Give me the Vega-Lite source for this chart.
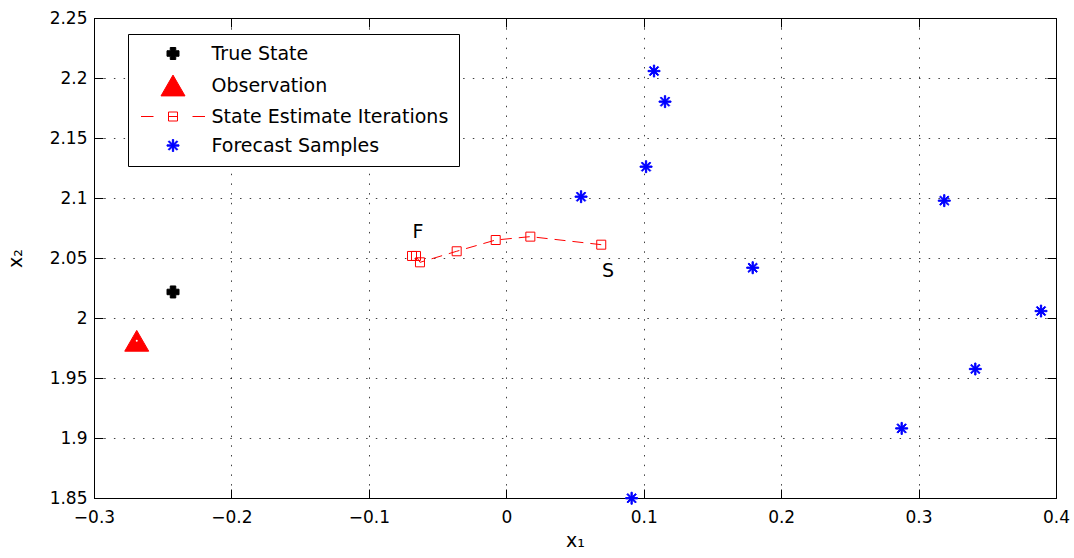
{
  "$schema": "https://vega.github.io/schema/vega-lite/v6.json",
  "width": 962,
  "height": 480,
  "autosize": {"type": "none"},
  "padding": {"left": 94, "top": 18, "right": 18, "bottom": 60},
  "background": "white",
  "config": {
    "view": {"stroke": "black", "strokeWidth": 1},
    "font": "DejaVu Sans",
    "axis": {
      "labelFont": "DejaVu Sans",
      "labelFontSize": 17,
      "labelColor": "black",
      "labelFlush": false,
      "titleFont": "DejaVu Sans",
      "titleFontSize": 19,
      "titleFontWeight": "normal",
      "titleColor": "black",
      "tickColor": "black",
      "tickWidth": 1,
      "domainColor": "black",
      "gridColor": "#000000",
      "gridOpacity": 0.75,
      "gridWidth": 1,
      "gridDash": [1.5, 8.2]
    },
    "legend": {
      "title": null,
      "orient": "none", "legendX": 34, "legendY": 16,
      "fillColor": "white", "strokeColor": "black", "padding": 10,
      "labelFont": "DejaVu Sans", "labelFontSize": 19, "labelColor": "black", "labelLimit": 500,
      "symbolOffset": 25.5, "labelOffset": 29, "rowPadding": 9,
      "symbolSize": 100, "symbolStrokeWidth": 1
    }
  },
  "datasets": {
    "points": [
      {"series": "True State", "x1": -0.2425, "x2": 2.0217, "step": 0},
      {"series": "Observation", "x1": -0.2689, "x2": 1.981, "step": 0},
      {"series": "State Estimate Iterations", "x1": 0.0691, "x2": 2.0611, "step": 1},
      {"series": "State Estimate Iterations", "x1": 0.0175, "x2": 2.0678, "step": 2},
      {"series": "State Estimate Iterations", "x1": -0.0077, "x2": 2.065, "step": 3},
      {"series": "State Estimate Iterations", "x1": -0.0361, "x2": 2.0556, "step": 4},
      {"series": "State Estimate Iterations", "x1": -0.0628, "x2": 2.0464, "step": 5},
      {"series": "State Estimate Iterations", "x1": -0.0657, "x2": 2.0517, "step": 6},
      {"series": "State Estimate Iterations", "x1": -0.0686, "x2": 2.0517, "step": 7},
      {"series": "Forecast Samples", "x1": 0.1075, "x2": 2.2058, "step": 0},
      {"series": "Forecast Samples", "x1": 0.1155, "x2": 2.1803, "step": 0},
      {"series": "Forecast Samples", "x1": 0.1017, "x2": 2.1261, "step": 0},
      {"series": "Forecast Samples", "x1": 0.0544, "x2": 2.1011, "step": 0},
      {"series": "Forecast Samples", "x1": 0.1793, "x2": 2.0419, "step": 0},
      {"series": "Forecast Samples", "x1": 0.3187, "x2": 2.0978, "step": 0},
      {"series": "Forecast Samples", "x1": 0.3891, "x2": 2.0058, "step": 0},
      {"series": "Forecast Samples", "x1": 0.3413, "x2": 1.9575, "step": 0},
      {"series": "Forecast Samples", "x1": 0.2877, "x2": 1.908, "step": 0},
      {"series": "Forecast Samples", "x1": 0.0912, "x2": 1.8498, "step": 0}
    ],
    "labels": [
      {"label": "F", "x1": -0.0642, "x2": 2.0713},
      {"label": "S", "x1": 0.074, "x2": 2.0392}
    ]
  },
  "layer": [
    {
      "data": {"name": "points"},
      "transform": [{"filter": "datum.series === 'State Estimate Iterations'"}],
      "mark": {"type": "line", "color": "red", "strokeWidth": 1, "strokeDash": [11, 7], "clip": false},
      "encoding": {
        "x": {"field": "x1", "type": "quantitative", "scale": {"domain": [-0.3, 0.4], "nice": false, "zero": false},
          "axis": {"orient": "top", "labels": false, "grid": false, "domain": false, "title": null, "tickSize": -9,
            "values": [-0.3, -0.2, -0.1, 0, 0.1, 0.2, 0.3, 0.4]}},
        "y": {"field": "x2", "type": "quantitative", "scale": {"domain": [1.85, 2.25], "nice": false, "zero": false},
          "axis": {"orient": "right", "labels": false, "grid": false, "domain": false, "title": null, "tickSize": -9,
            "values": [1.85, 1.9, 1.95, 2, 2.05, 2.1, 2.15, 2.2, 2.25]}},
        "order": {"field": "step", "type": "quantitative"}
      }
    },
    {
      "data": {"name": "points"},
      "mark": {"type": "point", "size": 100, "strokeWidth": 1, "opacity": 1, "clip": false},
      "encoding": {
        "x": {"field": "x1", "type": "quantitative",
          "axis": {"orient": "bottom", "grid": true, "domain": true, "tickSize": -9, "labelPadding": 20,
            "format": "~g", "title": "x₁", "titleX": 481, "titleY": 48, "titleBaseline": "alphabetic", "titleAlign": "center",
            "values": [-0.3, -0.2, -0.1, 0, 0.1, 0.2, 0.3, 0.4]}},
        "y": {"field": "x2", "type": "quantitative",
          "axis": {"orient": "left", "grid": true, "domain": true, "tickSize": -9, "labelPadding": 16,
            "format": "~g", "title": "x₂", "titleX": -73, "titleY": 240, "titleAngle": -90, "titleBaseline": "alphabetic", "titleAlign": "center",
            "values": [1.85, 1.9, 1.95, 2, 2.05, 2.1, 2.15, 2.2, 2.25]}},
        "shape": {"field": "series", "type": "nominal", "legend": null,
          "scale": {"domain": ["True State", "Observation", "State Estimate Iterations", "Forecast Samples"],
            "range": [
              "M-1.2,-0.55H-0.55V-1.2H0.55V-0.55H1.2V0.55H0.55V1.2H-0.55V0.55H-1.2Z",
              "M0,-2.08L2.4,2.08L-2.4,2.08Z",
              "M-0.9,-0.9H0.9V0.9H-0.9Z",
              "M-1.2,-0.13H1.2V0.13H-1.2ZM-0.13,-1.2H0.13V1.2H-0.13ZM-0.76,-0.94L0.94,0.76L0.76,0.94L-0.94,-0.76ZM-0.94,0.76L0.76,-0.94L0.94,-0.76L-0.76,0.94Z"
            ]}},
        "fill": {"field": "series", "type": "nominal", "legend": null,
          "scale": {"domain": ["True State", "Observation", "State Estimate Iterations", "Forecast Samples"],
            "range": ["black", "red", "transparent", "blue"]}},
        "stroke": {"field": "series", "type": "nominal", "legend": null,
          "scale": {"domain": ["True State", "Observation", "State Estimate Iterations", "Forecast Samples"],
            "range": ["black", "red", "red", "blue"]}}
      }
    },
    {
      "data": {"name": "points"},
      "transform": [{"filter": "false"}],
      "mark": {"type": "point", "size": 100, "strokeWidth": 1, "opacity": 1, "clip": false},
      "encoding": {
        "x": {"field": "x1", "type": "quantitative", "axis": null},
        "y": {"field": "x2", "type": "quantitative", "axis": null},
        "shape": {"field": "series", "type": "nominal",
          "scale": {"domain": ["True State", "Observation", "State Estimate Iterations", "Forecast Samples"],
            "range": [
              "M-1.2,-0.55H-0.55V-1.2H0.55V-0.55H1.2V0.55H0.55V1.2H-0.55V0.55H-1.2Z",
              "M0,-2.08L2.4,2.08L-2.4,2.08Z",
              "M-6.4,0H-3.9M3.9,0H6.4M-0.9,-0.9H0.9V0.9H-0.9ZM-0.9,0H0.9",
              "M-1.2,-0.13H1.2V0.13H-1.2ZM-0.13,-1.2H0.13V1.2H-0.13ZM-0.76,-0.94L0.94,0.76L0.76,0.94L-0.94,-0.76ZM-0.94,0.76L0.76,-0.94L0.94,-0.76L-0.76,0.94Z"
            ]}},
        "fill": {"field": "series", "type": "nominal",
          "scale": {"domain": ["True State", "Observation", "State Estimate Iterations", "Forecast Samples"],
            "range": ["black", "red", "transparent", "blue"]}},
        "stroke": {"field": "series", "type": "nominal",
          "scale": {"domain": ["True State", "Observation", "State Estimate Iterations", "Forecast Samples"],
            "range": ["black", "red", "red", "blue"]}}
      }
    },
    {
      "data": {"name": "points"},
      "transform": [{"filter": "datum.series === 'Observation'"}],
      "mark": {"type": "point", "shape": "circle", "filled": true, "color": "white", "size": 4, "opacity": 1, "clip": false},
      "encoding": {
        "x": {"field": "x1", "type": "quantitative", "axis": null},
        "y": {"field": "x2", "type": "quantitative", "axis": null}
      }
    },
    {
      "data": {"name": "labels"},
      "mark": {"type": "text", "font": "DejaVu Sans", "fontSize": 19, "color": "black", "align": "center", "baseline": "middle", "clip": false},
      "encoding": {
        "x": {"field": "x1", "type": "quantitative", "axis": null},
        "y": {"field": "x2", "type": "quantitative", "axis": null},
        "text": {"field": "label"}
      }
    }
  ],
  "resolve": {
    "axis": {"x": "independent", "y": "independent"},
    "scale": {"shape": "independent", "fill": "independent", "stroke": "independent"}
  }
}
